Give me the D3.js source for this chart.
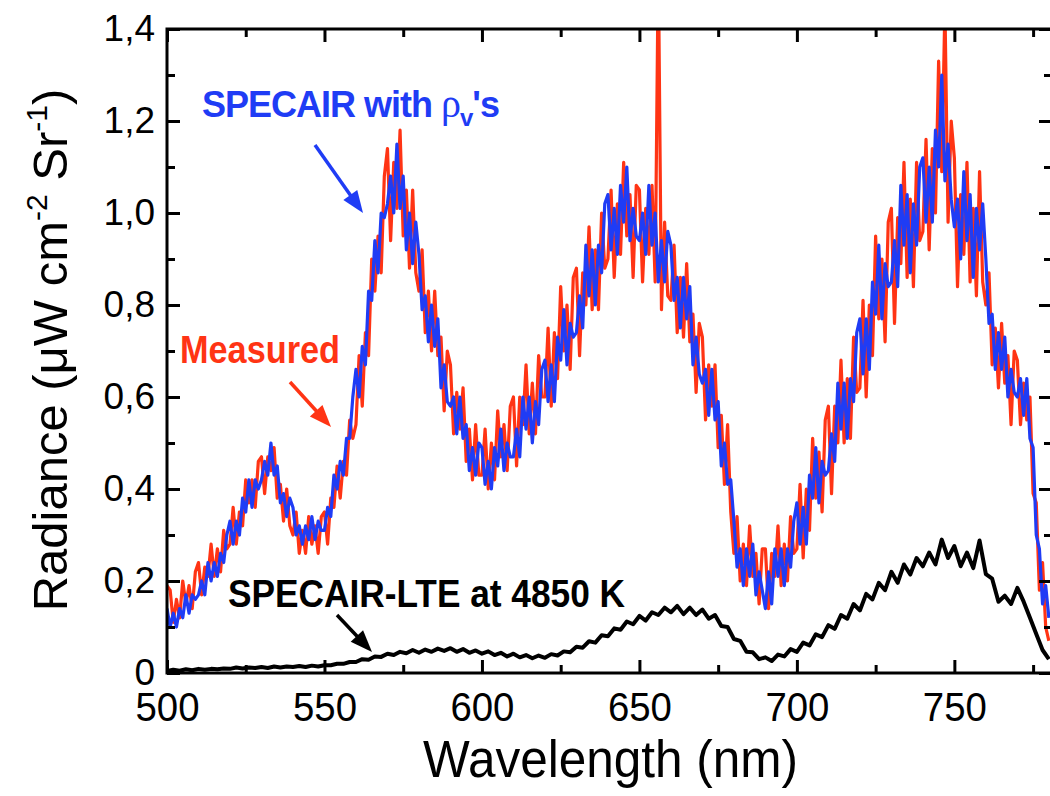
<!DOCTYPE html>
<html>
<head>
<meta charset="UTF-8">
<style>
  body { margin: 0; background: #fff; }
  svg { display: block; font-family: "Liberation Sans", Arial, sans-serif; }
</style>
</head>
<body>
<svg id="chart"></svg>
<script src="https://d3js.org/d3.v7.min.js"></script>
<script>
let width = 1050, height = 796;

// spectra sampled from 500 nm, 1 nm step (measured, specair) and 2 nm step (lte)
const startNm = 500;

const measured = [
  0.19,0.18,0.11,0.16,0.12,0.20,0.15,0.19,0.14,0.22,
  0.24,0.17,0.23,0.21,0.28,0.21,0.27,0.22,0.31,0.27,
  0.28,0.36,0.28,0.35,0.32,0.42,0.37,0.42,0.36,0.46,
  0.47,0.39,0.47,0.44,0.49,0.38,0.41,0.33,0.40,0.32,
  0.30,0.35,0.26,0.31,0.26,0.34,0.28,0.32,0.26,0.34,
  0.35,0.28,0.38,0.36,0.45,0.38,0.46,0.43,0.55,0.51,
  0.54,0.69,0.58,0.74,0.69,0.90,0.83,0.95,0.87,1.08,
  1.14,0.94,1.11,1.01,1.18,0.95,1.05,0.88,1.05,0.87,
  0.83,0.92,0.74,0.83,0.70,0.83,0.69,0.73,0.57,0.70,
  0.67,0.52,0.61,0.53,0.62,0.46,0.53,0.42,0.54,0.43,
  0.43,0.53,0.40,0.50,0.42,0.57,0.47,0.54,0.44,0.58,
  0.60,0.45,0.60,0.54,0.67,0.52,0.63,0.52,0.69,0.60,
  0.60,0.75,0.58,0.74,0.64,0.84,0.70,0.80,0.66,0.86,
  0.88,0.69,0.87,0.80,0.97,0.79,0.92,0.79,1.00,0.88,
  0.90,1.05,0.86,1.02,0.91,1.11,0.95,1.04,0.86,1.06,
  1.05,0.85,1.01,0.91,1.06,0.85,1.55,0.79,0.98,0.82,
  0.81,0.93,0.74,0.86,0.73,0.89,0.72,0.78,0.61,0.76,
  0.73,0.55,0.67,0.58,0.67,0.49,0.56,0.41,0.54,0.35,
  0.26,0.34,0.20,0.28,0.19,0.32,0.21,0.26,0.15,0.27,
  0.27,0.14,0.26,0.21,0.32,0.19,0.28,0.20,0.34,0.26,
  0.27,0.41,0.25,0.40,0.31,0.51,0.38,0.48,0.35,0.55,
  0.58,0.39,0.58,0.50,0.68,0.50,0.64,0.51,0.73,0.61,
  0.62,0.81,0.60,0.80,0.69,0.95,0.77,0.90,0.72,0.98,
  1.01,0.76,0.99,0.89,1.11,0.86,1.03,0.84,1.11,0.94,
  0.96,1.16,0.92,1.14,1.00,1.33,1.09,1.45,0.98,1.20,
  1.12,0.84,1.04,0.91,1.11,0.85,1.01,0.82,1.09,0.85,
  0.80,0.87,0.67,0.75,0.62,0.76,0.63,0.69,0.54,0.70,
  0.68,0.54,0.63,0.55,0.60,0.39,0.37,0.18,0.24,0.10,
  0.07
];

const specair = [
  0.14,0.10,0.13,0.10,0.14,0.12,0.17,0.13,0.17,0.16,
  0.17,0.20,0.17,0.24,0.20,0.24,0.21,0.26,0.24,0.30,
  0.33,0.28,0.33,0.30,0.38,0.35,0.42,0.36,0.42,0.40,
  0.42,0.46,0.43,0.50,0.43,0.45,0.37,0.39,0.34,0.38,
  0.36,0.30,0.32,0.28,0.32,0.29,0.34,0.29,0.33,0.31,
  0.31,0.36,0.34,0.43,0.40,0.46,0.43,0.51,0.51,0.60,
  0.66,0.60,0.71,0.67,0.83,0.81,0.94,0.87,1.00,0.99,
  1.02,1.08,1.00,1.15,1.01,1.08,0.92,1.00,0.89,0.98,
  0.91,0.79,0.82,0.72,0.80,0.71,0.77,0.62,0.67,0.59,
  0.58,0.60,0.52,0.60,0.51,0.54,0.44,0.49,0.43,0.50,
  0.49,0.41,0.46,0.40,0.49,0.45,0.53,0.44,0.50,0.47,
  0.47,0.53,0.47,0.60,0.53,0.60,0.50,0.59,0.54,0.66,
  0.68,0.59,0.67,0.59,0.73,0.68,0.79,0.67,0.76,0.73,
  0.74,0.82,0.75,0.93,0.82,0.92,0.80,0.93,0.87,1.02,
  1.04,0.92,1.01,0.91,1.06,0.98,1.10,0.94,1.01,0.95,
  0.94,1.00,0.91,1.06,0.93,1.00,0.85,0.94,0.85,0.96,
  0.93,0.81,0.86,0.75,0.86,0.77,0.84,0.67,0.73,0.65,
  0.63,0.66,0.56,0.66,0.55,0.59,0.45,0.50,0.41,0.42,
  0.33,0.23,0.27,0.19,0.27,0.21,0.28,0.17,0.22,0.18,
  0.14,0.22,0.15,0.27,0.21,0.27,0.19,0.27,0.23,0.33,
  0.37,0.28,0.36,0.28,0.43,0.38,0.49,0.37,0.46,0.43,
  0.44,0.52,0.46,0.63,0.53,0.63,0.51,0.64,0.59,0.74,
  0.77,0.65,0.77,0.66,0.85,0.78,0.93,0.77,0.89,0.84,
  0.85,0.94,0.84,1.06,0.93,1.04,0.87,1.02,0.93,1.10,
  1.12,0.98,1.10,0.98,1.18,1.10,1.30,1.07,1.15,1.03,
  0.97,1.03,0.90,1.09,0.94,1.04,0.86,1.01,0.92,1.02,
  0.90,0.76,0.78,0.66,0.74,0.66,0.73,0.60,0.66,0.61,
  0.60,0.64,0.56,0.64,0.51,0.49,0.30,0.27,0.15,0.19,
  0.12
];

const lte = [
  0.004,0.007,0.005,0.008,0.006,0.009,0.007,0.009,0.008,0.010,
  0.009,0.012,0.010,0.012,0.011,0.013,0.011,0.014,0.012,0.014,
  0.013,0.015,0.013,0.016,0.014,0.017,0.017,0.020,0.020,0.024,
  0.024,0.030,0.029,0.036,0.035,0.042,0.039,0.046,0.043,0.050,
  0.044,0.051,0.046,0.053,0.048,0.054,0.046,0.052,0.044,0.049,
  0.042,0.047,0.039,0.044,0.036,0.042,0.034,0.039,0.032,0.038,
  0.033,0.041,0.038,0.047,0.045,0.057,0.055,0.069,0.066,0.082,
  0.080,0.097,0.094,0.112,0.106,0.124,0.114,0.132,0.126,0.142,
  0.132,0.146,0.128,0.142,0.126,0.138,0.118,0.126,0.102,0.100,
  0.074,0.070,0.046,0.045,0.030,0.034,0.026,0.040,0.036,0.052,
  0.046,0.066,0.060,0.084,0.078,0.104,0.096,0.126,0.118,0.150,
  0.136,0.172,0.160,0.196,0.180,0.220,0.196,0.236,0.214,0.250,
  0.232,0.262,0.236,0.290,0.250,0.276,0.232,0.262,0.228,0.288,
  0.215,0.205,0.155,0.168,0.150,0.185,0.155,0.120,0.085,0.050,
  0.030
];

const xTicks = [500, 550, 600, 650, 700, 750];
const xMinor = [525, 575, 625, 675, 725, 775];
const yTicks = [0, 0.2, 0.4, 0.6, 0.8, 1.0, 1.2, 1.4];
const yTickLabels = ["0", "0,2", "0,4", "0,6", "0,8", "1,0", "1,2", "1,4"];
const yMinor = [0.1, 0.3, 0.5, 0.7, 0.9, 1.1, 1.3];

const red = "#ff3414", blue = "#1f3cf5";

let svg = d3.select("#chart").attr("width", width).attr("height", height);

let pLeft = 167, pRight = 1052, pTop = 29, pBottom = 673;

let x = d3.scaleLinear().domain([500, 781]).range([pLeft, pRight]);
let y = d3.scaleLinear().domain([0, 1.4]).range([pBottom, pTop]);

svg.append("clipPath").attr("id", "plot")
  .append("rect")
  .attr("x", pLeft).attr("y", pTop)
  .attr("width", pRight - pLeft).attr("height", pBottom - pTop);

let lines = svg.append("g").attr("clip-path", "url(#plot)");

let line1 = d3.line().x((d, i) => x(startNm + i)).y(d => y(d));
let line2 = d3.line().x((d, i) => x(startNm + 2 * i)).y(d => y(d));

lines.append("path").datum(lte)
  .attr("d", line2).attr("fill", "none")
  .attr("stroke", "#000").attr("stroke-width", 4).attr("stroke-linejoin", "round");
lines.append("path").datum(measured)
  .attr("d", line1).attr("fill", "none")
  .attr("stroke", red).attr("stroke-width", 3.2).attr("stroke-linejoin", "round");
lines.append("path").datum(specair)
  .attr("d", line1).attr("fill", "none")
  .attr("stroke", blue).attr("stroke-width", 3.2).attr("stroke-linejoin", "round");

// axes, ticks pointing inward
function styleAxis(g) {
  g.select(".domain").remove();
  g.selectAll(".tick line").attr("stroke", "#000").attr("stroke-width", 3);
}

svg.append("g").attr("transform", `translate(0,${pBottom})`)
  .call(d3.axisBottom(x).tickValues(xTicks).tickSize(-13).tickPadding(19))
  .call(styleAxis)
  .call(g => g.selectAll("text")
    .attr("font-family", "Liberation Sans, Arial, sans-serif")
    .attr("font-size", 41).attr("fill", "#000")
    .attr("textLength", 64).attr("lengthAdjust", "spacingAndGlyphs"));
svg.append("g").attr("transform", `translate(0,${pBottom})`)
  .call(d3.axisBottom(x).tickValues(xMinor).tickSize(-8).tickFormat(""))
  .call(styleAxis);
svg.append("g").attr("transform", `translate(0,${pTop})`)
  .call(d3.axisTop(x).tickValues(xTicks).tickSize(-13).tickFormat(""))
  .call(styleAxis);
svg.append("g").attr("transform", `translate(0,${pTop})`)
  .call(d3.axisTop(x).tickValues(xMinor).tickSize(-8).tickFormat(""))
  .call(styleAxis);

svg.append("g").attr("transform", `translate(${pLeft},0)`)
  .call(d3.axisLeft(y).tickValues(yTicks).tickSize(-13).tickPadding(12)
    .tickFormat((d, i) => yTickLabels[i]))
  .call(styleAxis)
  .call(g => g.selectAll("text")
    .attr("font-family", "Liberation Sans, Arial, sans-serif")
    .attr("font-size", 37).attr("fill", "#000"));
svg.append("g").attr("transform", `translate(${pLeft},0)`)
  .call(d3.axisLeft(y).tickValues(yMinor).tickSize(-8).tickFormat(""))
  .call(styleAxis);
svg.append("g").attr("transform", `translate(${pRight},0)`)
  .call(d3.axisRight(y).tickValues(yTicks).tickSize(-13).tickFormat(""))
  .call(styleAxis);
svg.append("g").attr("transform", `translate(${pRight},0)`)
  .call(d3.axisRight(y).tickValues(yMinor).tickSize(-8).tickFormat(""))
  .call(styleAxis);

svg.append("rect")
  .attr("x", pLeft).attr("y", pTop)
  .attr("width", pRight - pLeft).attr("height", pBottom - pTop)
  .attr("fill", "none").attr("stroke", "#000").attr("stroke-width", 3);

// axis titles
svg.append("text")
  .attr("x", 423).attr("y", 777)
  .attr("font-size", 51).attr("fill", "#000")
  .attr("textLength", 375).attr("lengthAdjust", "spacingAndGlyphs")
  .text("Wavelength (nm)");

let yl = svg.append("text")
  .attr("transform", "translate(67,350) rotate(-90)")
  .attr("text-anchor", "middle")
  .attr("font-size", 49).attr("fill", "#000");
yl.append("tspan").text("Radiance (\u03bcW cm");
yl.append("tspan").attr("font-size", 30).attr("dy", -20).text("-2");
yl.append("tspan").attr("dy", 20).text(" Sr");
yl.append("tspan").attr("font-size", 30).attr("dy", -20).text("-1");
yl.append("tspan").attr("dy", 20).text(")");

// annotations
function arrow(x1, y1, x2, y2, color) {
  let a = Math.atan2(y2 - y1, x2 - x1), len = 22, hw = 8.5;
  let bx = x2 - len * Math.cos(a), by = y2 - len * Math.sin(a);
  svg.append("line")
    .attr("x1", x1).attr("y1", y1).attr("x2", bx + 3 * Math.cos(a)).attr("y2", by + 3 * Math.sin(a))
    .attr("stroke", color).attr("stroke-width", 3.5);
  svg.append("polygon")
    .attr("points", [
      [x2, y2],
      [bx + hw * Math.sin(a), by - hw * Math.cos(a)],
      [bx - hw * Math.sin(a), by + hw * Math.cos(a)]
    ].map(p => p.join(",")).join(" "))
    .attr("fill", color);
}

let t1 = svg.append("text")
  .attr("x", 202).attr("y", 117)
  .attr("font-size", 36).attr("font-weight", "bold")
  .attr("letter-spacing", -1).attr("fill", blue);
t1.append("tspan").text("SPECAIR with ");
t1.append("tspan").attr("font-weight", "normal").attr("font-family", "Liberation Serif, serif")
  .attr("font-size", 40).text("\u03c1");
t1.append("tspan").attr("font-size", 24).attr("dy", 9).text("v");
t1.append("tspan").attr("dy", -9).text("'s");
arrow(315, 145, 363, 213, blue);

svg.append("text")
  .attr("x", 180).attr("y", 363)
  .attr("font-size", 39).attr("font-weight", "bold").attr("fill", red)
  .attr("textLength", 160).attr("lengthAdjust", "spacingAndGlyphs")
  .text("Measured");
arrow(290, 382, 331, 427, red);

svg.append("text")
  .attr("x", 228).attr("y", 607)
  .attr("font-size", 39).attr("font-weight", "bold").attr("fill", "#000")
  .attr("textLength", 397).attr("lengthAdjust", "spacingAndGlyphs")
  .text("SPECAIR-LTE at 4850 K");
arrow(337, 615, 372, 652, "#000");
</script>
</body>
</html>
